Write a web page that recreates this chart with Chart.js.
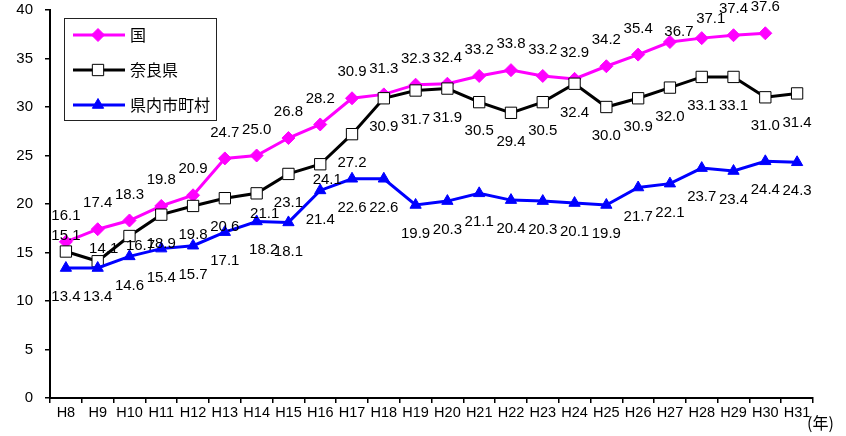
<!DOCTYPE html>
<html>
<head>
<meta charset="utf-8">
<script src="https://cdn.jsdelivr.net/npm/chart.js@4.4.1/dist/chart.umd.min.js"></script>
<style>
html,body{margin:0;padding:0;background:#fff;}
#wrap{width:846px;height:436px;position:relative;}
</style>
</head>
<body>
<div id="wrap"><canvas id="c" width="846" height="436"></canvas></div>
<script>
// ---- data ----
const categories = ["H8","H9","H10","H11","H12","H13","H14","H15","H16","H17","H18","H19","H20","H21","H22","H23","H24","H25","H26","H27","H28","H29","H30","H31"];
const seriesNames = ["国","奈良県","県内市町村"];
const national = [16.1,17.4,18.3,19.8,20.9,24.7,25.0,26.8,28.2,30.9,31.3,32.3,32.4,33.2,33.8,33.2,32.9,34.2,35.4,36.7,37.1,37.4,37.6,null];
const nara = [15.1,14.1,16.7,18.9,19.8,20.6,21.1,23.1,24.1,27.2,30.9,31.7,31.9,30.5,29.4,30.5,32.4,30.0,30.9,32.0,33.1,33.1,31.0,31.4];
const municipalities = [13.4,13.4,14.6,15.4,15.7,17.1,18.2,18.1,21.4,22.6,22.6,19.9,20.3,21.1,20.4,20.3,20.1,19.9,21.7,22.1,23.7,23.4,24.4,24.3];
const yTicks = [0,5,10,15,20,25,30,35,40];
const xUnit = "(年)";

// ---- label placement (offsets of value labels from their point) ----
const labelDefault = [[0,-26],[0,29],[0,29]];
const labelOverrides = [
  {19:[9,-10],20:[9,-19]},
  {0:[0,-16],1:[6,-12],2:[11,10],6:[8,21],8:[7,16]},
  {6:[7,28]}
];

const numFont = '"Liberation Sans", Arial, sans-serif';
const cjkFont = '"Noto Sans CJK JP", sans-serif';

const valueLabels = {
  id:'valueLabels',
  afterDatasetsDraw(chart){
    const ctx = chart.ctx;
    ctx.save();
    ctx.font = '15px ' + numFont;
    ctx.fillStyle = '#000';
    ctx.textAlign = 'center';
    ctx.textBaseline = 'middle';
    chart.data.datasets.forEach((ds, di) => {
      const meta = chart.getDatasetMeta(di);
      meta.data.forEach((pt, i) => {
        const v = ds.data[i];
        if (v === null || v === undefined) return;
        const off = (labelOverrides[di][i]) || labelDefault[di];
        ctx.fillText(v.toFixed(1), pt.x + off[0], pt.y + off[1]);
      });
    });
    ctx.restore();
  }
};

function drawMarker(ctx, style, x, y, r, fill, stroke){
  ctx.beginPath();
  if (style === 'rectRot'){
    ctx.moveTo(x, y - r); ctx.lineTo(x + r, y); ctx.lineTo(x, y + r); ctx.lineTo(x - r, y); ctx.closePath();
  } else if (style === 'rect'){
    const s = Math.SQRT1_2 * r;
    ctx.rect(x - s, y - s, 2*s, 2*s);
  } else if (style === 'triangle'){
    ctx.moveTo(x, y - r);
    ctx.lineTo(x + Math.sin(2*Math.PI/3)*r, y - Math.cos(2*Math.PI/3)*r);
    ctx.lineTo(x + Math.sin(4*Math.PI/3)*r, y - Math.cos(4*Math.PI/3)*r);
    ctx.closePath();
  }
  ctx.fillStyle = fill; ctx.fill();
  ctx.lineWidth = 1; ctx.strokeStyle = stroke; ctx.stroke();
}

const boxLegend = {
  id:'boxLegend',
  afterDraw(chart){
    const ctx = chart.ctx;
    ctx.save();
    ctx.fillStyle = '#fff';
    ctx.fillRect(64.5, 18.5, 152, 102);
    ctx.lineWidth = 1;
    ctx.strokeStyle = '#222';
    ctx.strokeRect(64.5, 18.5, 152, 102);
    const rows = [35, 70, 105];
    chart.data.datasets.forEach((ds, di) => {
      const y = rows[di];
      ctx.beginPath();
      ctx.moveTo(73, y); ctx.lineTo(125, y);
      ctx.lineWidth = ds.borderWidth; ctx.strokeStyle = ds.borderColor; ctx.stroke();
      drawMarker(ctx, ds.pointStyle, 98, y, ds.pointRadius, ds.pointBackgroundColor, ds.pointBorderColor);
      ctx.fillStyle = '#000';
      ctx.font = '16px ' + cjkFont;
      ctx.textAlign = 'left';
      ctx.textBaseline = 'middle';
      ctx.fillText(ds.label, 130, y);
    });
    ctx.font = '16px ' + cjkFont;
    ctx.textAlign = 'left';
    ctx.textBaseline = 'middle';
    ctx.fillText(xUnit, 807, 423);
    ctx.restore();
  }
};

new Chart(document.getElementById('c'), {
  type:'line',
  data:{
    labels: categories,
    datasets:[
      {label:seriesNames[0], data:national, borderColor:'#FF00FF', borderWidth:3, pointStyle:'rectRot', pointRadius:6.5,
       pointBackgroundColor:'#FF00FF', pointBorderColor:'#FF00FF', pointBorderWidth:1, tension:0, order:3},
      {label:seriesNames[1], data:nara, borderColor:'#000000', borderWidth:3, pointStyle:'rect', pointRadius:8,
       pointBackgroundColor:'#FFFFFF', pointBorderColor:'#000000', pointBorderWidth:1, tension:0, order:2},
      {label:seriesNames[2], data:municipalities, borderColor:'#0000FF', borderWidth:3, pointStyle:'triangle', pointRadius:6.5,
       pointBackgroundColor:'#0000FF', pointBorderColor:'#0000FF', pointBorderWidth:1, tension:0, order:1}
    ]
  },
  options:{
    responsive:false,
    animation:false,
    events:[],
    layout:{padding:{top:10,right:33,left:0,bottom:0}},
    plugins:{legend:{display:false}, tooltip:{enabled:false}, title:{display:false}},
    scales:{
      x:{
        offset:true,
        grid:{display:true, offset:true, drawOnChartArea:false, drawTicks:true, tickLength:5, color:'#000', lineWidth:1.5},
        border:{display:true, color:'#000', width:2},
        ticks:{color:'#000', font:{family:numFont, size:14.5}, padding:1, maxRotation:0, autoSkip:false},
        afterFit(s){ s.height = 38; s.paddingLeft = 0; s.paddingRight = 0; }
      },
      y:{
        min:0, max:40,
        afterBuildTicks(s){ s.ticks = yTicks.map(v => ({value:v})); },
        grid:{display:true, drawOnChartArea:false, drawTicks:true, tickLength:5, color:'#000', lineWidth:1.5},
        border:{display:true, color:'#000', width:2},
        ticks:{color:'#000', font:{family:numFont, size:15}, padding:12},
        afterFit(s){ s.width = 50; s.paddingTop = 0; s.paddingBottom = 0; }
      }
    }
  },
  plugins:[valueLabels, boxLegend]
});
</script>
</body>
</html>
